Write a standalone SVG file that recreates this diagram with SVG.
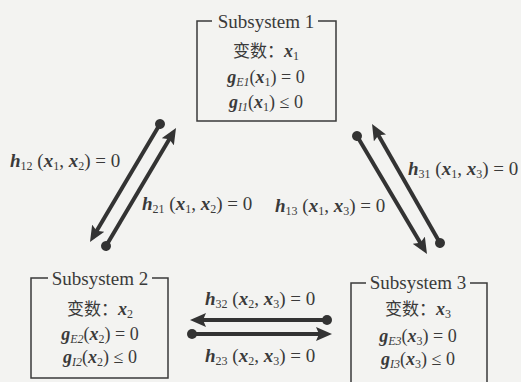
<svg xmlns="http://www.w3.org/2000/svg" width="521" height="382" viewBox="0 0 521 382">
<defs>
<marker id="dot" markerUnits="userSpaceOnUse" markerWidth="12" markerHeight="12" refX="6" refY="6" orient="auto"><circle cx="6" cy="6" r="5" fill="#333"/></marker>
<marker id="arr" markerUnits="userSpaceOnUse" markerWidth="18" markerHeight="14" refX="6" refY="7" orient="auto"><path d="M0,0 L16,7 L0,14 L3,7 z" fill="#333"/></marker>
</defs>
<rect width="521" height="382" fill="#f3f3f1"/>
<g font-family="'Liberation Serif', 'Noto Sans CJK SC', serif" fill="#3a3a3a" font-size="18">
<g id="subsystem1">
<path d="M212,21 H197 V121 H336 V21 H318" fill="none" stroke="#3a3a3a" stroke-width="1.5"/>
<text font-family="'Liberation Serif', 'Noto Sans CJK SC', serif" font-size="19" x="266" y="28" text-anchor="middle">Subsystem 1</text>
<text font-family="'Liberation Serif', 'Noto Sans CJK SC', serif" x="266" y="57" text-anchor="middle"><tspan font-family="'Noto Sans CJK SC', sans-serif" font-size="17">变数：</tspan><tspan font-style="italic" font-weight="bold">x</tspan><tspan font-size="12" dy="3">1</tspan></text>
<text font-family="'Liberation Serif', 'Noto Sans CJK SC', serif" x="266" y="83" text-anchor="middle"><tspan font-style="italic" font-weight="bold">g</tspan><tspan font-size="12" font-style="italic" dy="3">E1</tspan><tspan dy="-3">(</tspan><tspan font-style="italic" font-weight="bold">x</tspan><tspan font-size="12" dy="3">1</tspan><tspan dy="-3">) = 0</tspan></text>
<text font-family="'Liberation Serif', 'Noto Sans CJK SC', serif" x="266" y="108" text-anchor="middle"><tspan font-style="italic" font-weight="bold">g</tspan><tspan font-size="12" font-style="italic" dy="3">I1</tspan><tspan dy="-3">(</tspan><tspan font-style="italic" font-weight="bold">x</tspan><tspan font-size="12" dy="3">1</tspan><tspan dy="-3">) ≤ 0</tspan></text>
</g>
<g id="subsystem2">
<path d="M48,278 H31 V378 H168 V278 H152" fill="none" stroke="#3a3a3a" stroke-width="1.5"/>
<text font-family="'Liberation Serif', 'Noto Sans CJK SC', serif" font-size="19" x="100" y="285" text-anchor="middle">Subsystem 2</text>
<text font-family="'Liberation Serif', 'Noto Sans CJK SC', serif" x="100" y="315" text-anchor="middle"><tspan font-family="'Noto Sans CJK SC', sans-serif" font-size="17">变数：</tspan><tspan font-style="italic" font-weight="bold">x</tspan><tspan font-size="12" dy="3">2</tspan></text>
<text font-family="'Liberation Serif', 'Noto Sans CJK SC', serif" x="100" y="340" text-anchor="middle"><tspan font-style="italic" font-weight="bold">g</tspan><tspan font-size="12" font-style="italic" dy="3">E2</tspan><tspan dy="-3">(</tspan><tspan font-style="italic" font-weight="bold">x</tspan><tspan font-size="12" dy="3">2</tspan><tspan dy="-3">) = 0</tspan></text>
<text font-family="'Liberation Serif', 'Noto Sans CJK SC', serif" x="100" y="363" text-anchor="middle"><tspan font-style="italic" font-weight="bold">g</tspan><tspan font-size="12" font-style="italic" dy="3">I2</tspan><tspan dy="-3">(</tspan><tspan font-style="italic" font-weight="bold">x</tspan><tspan font-size="12" dy="3">2</tspan><tspan dy="-3">) ≤ 0</tspan></text>
</g>
<g id="subsystem3">
<path d="M366,283 H351 V383 M487,383 V283 H470" fill="none" stroke="#3a3a3a" stroke-width="1.5"/>
<text font-family="'Liberation Serif', 'Noto Sans CJK SC', serif" font-size="19" x="418" y="289" text-anchor="middle">Subsystem 3</text>
<text font-family="'Liberation Serif', 'Noto Sans CJK SC', serif" x="418" y="315" text-anchor="middle"><tspan font-family="'Noto Sans CJK SC', sans-serif" font-size="17">变数：</tspan><tspan font-style="italic" font-weight="bold">x</tspan><tspan font-size="12" dy="3">3</tspan></text>
<text font-family="'Liberation Serif', 'Noto Sans CJK SC', serif" x="418" y="342" text-anchor="middle"><tspan font-style="italic" font-weight="bold">g</tspan><tspan font-size="12" font-style="italic" dy="3">E3</tspan><tspan dy="-3">(</tspan><tspan font-style="italic" font-weight="bold">x</tspan><tspan font-size="12" dy="3">3</tspan><tspan dy="-3">) = 0</tspan></text>
<text font-family="'Liberation Serif', 'Noto Sans CJK SC', serif" x="418" y="365" text-anchor="middle"><tspan font-style="italic" font-weight="bold">g</tspan><tspan font-size="12" font-style="italic" dy="3">I3</tspan><tspan dy="-3">(</tspan><tspan font-style="italic" font-weight="bold">x</tspan><tspan font-size="12" dy="3">3</tspan><tspan dy="-3">) ≤ 0</tspan></text>
</g>
<g id="connectors" font-size="19">
<g stroke="#333" stroke-width="4" fill="none" marker-start="url(#dot)" marker-end="url(#arr)">
<line x1="160" y1="124" x2="95.1" y2="233.4"/>
<line x1="106" y1="246" x2="170.9" y2="136.6"/>
<line x1="357" y1="136" x2="421.9" y2="245.4"/>
<line x1="440" y1="243" x2="377" y2="132.7"/>
<line x1="327" y1="320" x2="200" y2="320"/>
<line x1="192" y1="334" x2="322" y2="334"/>
</g>
<text font-family="'Liberation Serif', 'Noto Sans CJK SC', serif" x="10" y="167"><tspan font-style="italic" font-weight="bold">h</tspan><tspan font-size="12" dy="3">12</tspan><tspan dy="-3"> (</tspan><tspan font-style="italic" font-weight="bold">x</tspan><tspan font-size="12" dy="3">1</tspan><tspan dy="-3">, </tspan><tspan font-style="italic" font-weight="bold">x</tspan><tspan font-size="12" dy="3">2</tspan><tspan dy="-3">) = 0</tspan></text>
<text font-family="'Liberation Serif', 'Noto Sans CJK SC', serif" x="142" y="210"><tspan font-style="italic" font-weight="bold">h</tspan><tspan font-size="12" dy="3">21</tspan><tspan dy="-3"> (</tspan><tspan font-style="italic" font-weight="bold">x</tspan><tspan font-size="12" dy="3">1</tspan><tspan dy="-3">, </tspan><tspan font-style="italic" font-weight="bold">x</tspan><tspan font-size="12" dy="3">2</tspan><tspan dy="-3">) = 0</tspan></text>
<text font-family="'Liberation Serif', 'Noto Sans CJK SC', serif" x="408" y="175"><tspan font-style="italic" font-weight="bold">h</tspan><tspan font-size="12" dy="3">31</tspan><tspan dy="-3"> (</tspan><tspan font-style="italic" font-weight="bold">x</tspan><tspan font-size="12" dy="3">1</tspan><tspan dy="-3">, </tspan><tspan font-style="italic" font-weight="bold">x</tspan><tspan font-size="12" dy="3">3</tspan><tspan dy="-3">) = 0</tspan></text>
<text font-family="'Liberation Serif', 'Noto Sans CJK SC', serif" x="275" y="212"><tspan font-style="italic" font-weight="bold">h</tspan><tspan font-size="12" dy="3">13</tspan><tspan dy="-3"> (</tspan><tspan font-style="italic" font-weight="bold">x</tspan><tspan font-size="12" dy="3">1</tspan><tspan dy="-3">, </tspan><tspan font-style="italic" font-weight="bold">x</tspan><tspan font-size="12" dy="3">3</tspan><tspan dy="-3">) = 0</tspan></text>
<text font-family="'Liberation Serif', 'Noto Sans CJK SC', serif" x="205" y="305"><tspan font-style="italic" font-weight="bold">h</tspan><tspan font-size="12" dy="3">32</tspan><tspan dy="-3"> (</tspan><tspan font-style="italic" font-weight="bold">x</tspan><tspan font-size="12" dy="3">2</tspan><tspan dy="-3">, </tspan><tspan font-style="italic" font-weight="bold">x</tspan><tspan font-size="12" dy="3">3</tspan><tspan dy="-3">) = 0</tspan></text>
<text font-family="'Liberation Serif', 'Noto Sans CJK SC', serif" x="205" y="362"><tspan font-style="italic" font-weight="bold">h</tspan><tspan font-size="12" dy="3">23</tspan><tspan dy="-3"> (</tspan><tspan font-style="italic" font-weight="bold">x</tspan><tspan font-size="12" dy="3">2</tspan><tspan dy="-3">, </tspan><tspan font-style="italic" font-weight="bold">x</tspan><tspan font-size="12" dy="3">3</tspan><tspan dy="-3">) = 0</tspan></text>
</g>
</g>
</svg>
